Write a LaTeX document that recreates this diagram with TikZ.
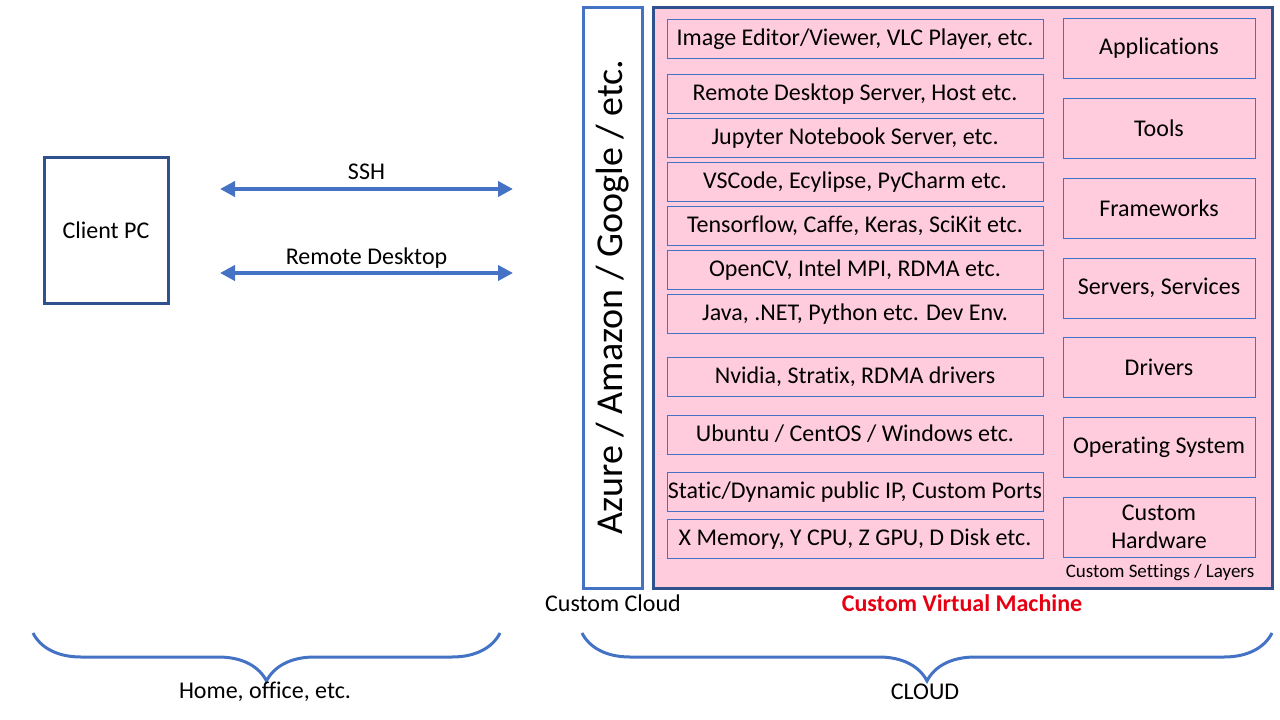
\documentclass[tikz,border=0pt]{standalone}
\usepackage{fontspec}
\setmainfont{Carlito}[Ligatures={NoCommon}]
\usepackage{tikz}
\definecolor{vmpink}{RGB}{255,204,221}
\definecolor{darkblue}{RGB}{47,82,143}
\definecolor{lightblue}{RGB}{68,114,196}
\definecolor{vmred}{RGB}{230,0,18}
\usetikzlibrary{arrows.meta}
\usetikzlibrary{decorations.pathreplacing}

\begin{document}
\begin{tikzpicture}[x=1pt,y=-1pt,
    txt/.style={font=\fontsize{24}{28}\selectfont, text=black, inner sep=0pt},
    layer/.style={txt, draw=lightblue, line width=1pt, minimum width=376pt, minimum height=39pt, text depth=3pt},
    tag/.style={txt, draw=lightblue, line width=1pt, minimum width=192pt, minimum height=60pt, align=center},
    link/.style={lightblue, line width=4pt, {Triangle[length=15pt,width=15pt]}-{Triangle[length=15pt,width=15pt]}},
    curly/.style={lightblue, line width=3pt, decorate, decoration={brace, mirror, amplitude=48pt, aspect=0.5}}
]
\useasboundingbox (0,0) rectangle (1280,720);
% client side
\node[txt, draw=darkblue, line width=3pt, minimum width=124pt, minimum height=146pt] (client) at (106,230) {Client PC};
\coordinate (sshL) at (220,189);
\coordinate (sshR) at (513,189);
\coordinate (rdpL) at (220,273);
\coordinate (rdpR) at (513,273);
\draw[link] (sshL) -- (sshR) node[txt, midway, above=7pt] (ssh) {SSH};
\draw[link] (rdpL) -- (rdpR) node[txt, midway, above=3pt] (rdp) {Remote Desktop};
% cloud provider and virtual machine
\node[draw=lightblue, line width=3pt, fill=white, minimum width=59pt, minimum height=581pt] (cloud) at (612.5,297.5) {};
\node[font=\fontsize{38}{44}\selectfont, rotate=90] (provider) at (613,297) {Azure / Amazon / Google / etc.};
\node[draw=darkblue, line width=3pt, fill=vmpink, minimum width=619pt, minimum height=581pt] (vm) at (962.5,297.5) {};
\node[layer] (apps) at (855,38.5) {Image Editor/Viewer, VLC Player, etc.};
\node[layer] (rdserver) at (855,93.5) {Remote Desktop Server, Host etc.};
\node[layer] (jupyter) at (855,137.5) {Jupyter Notebook Server, etc.};
\node[layer] (ide) at (855,181.5) {VSCode, Ecylipse, PyCharm etc.};
\node[layer] (dl) at (855,225.5) {Tensorflow, Caffe, Keras, SciKit etc.};
\node[layer] (libs) at (855,269.5) {OpenCV, Intel MPI, RDMA etc.};
\node[layer] (devenv) at (855,313.5) {Java, .NET, Python etc. Dev Env.};
\node[layer] (drv) at (855,376.5) {Nvidia, Stratix, RDMA drivers};
\node[layer] (os) at (855,434.5) {Ubuntu / CentOS / Windows etc.};
\node[layer] (net) at (855,491.5) {Static/Dynamic public IP, Custom Ports};
\node[layer] (hw) at (855,538.5) {X Memory, Y CPU, Z GPU, D Disk etc.};
\node[tag] (tapps) at (1159,48.5) {Applications};
\node[tag] (ttools) at (1159,128) {Tools};
\node[tag] (tframe) at (1159,208) {Frameworks};
\node[tag] (tserv) at (1159,288) {Servers, Services};
\node[tag] (tdrv) at (1159,367) {Drivers};
\node[tag] (tos) at (1159,447) {Operating System};
\node[tag] (thw) at (1159,527) {Custom\\Hardware};
\node[font=\fontsize{19}{22}\selectfont] (settings) at (1160,573) {Custom Settings / Layers};
\node[txt] (cloudlbl) at (613,603) {Custom Cloud};
\node[txt, text=vmred, font=\fontsize{24}{28}\selectfont\bfseries] (vmlbl) at (962,603) {Custom Virtual Machine};
% braces
\draw[curly] (33,633) -- (500,633);
\draw[curly] (582,633) -- (1272,633);
\node[txt] (home) at (265,692) {Home, office, etc.};
\node[txt] (cloudall) at (925,692) {CLOUD};
\end{tikzpicture}
\end{document}
